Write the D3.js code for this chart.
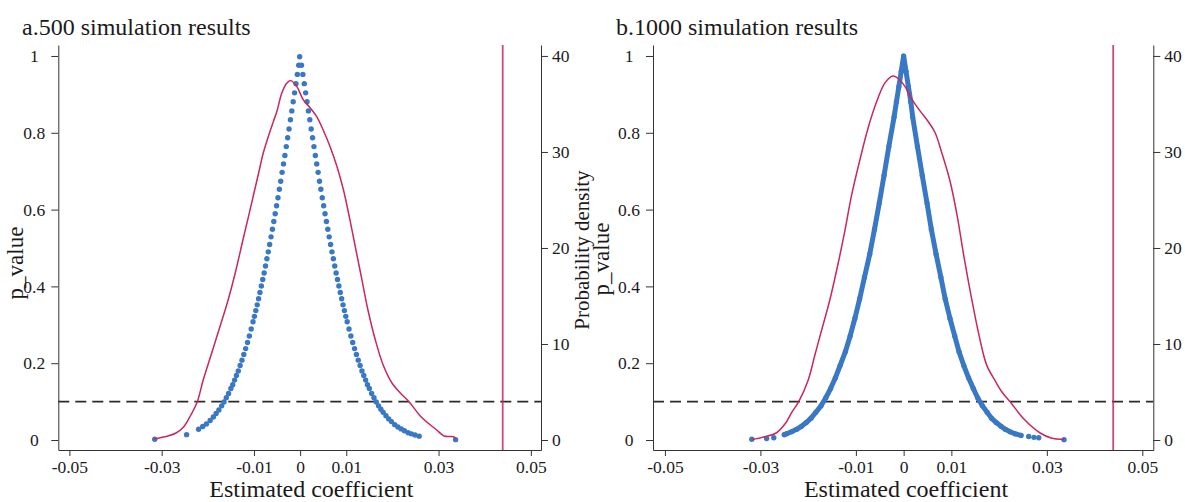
<!DOCTYPE html>
<html>
<head>
<meta charset="utf-8">
<script src="https://cdn.jsdelivr.net/npm/d3@7"></script>
<style>
  body { margin: 0; background: #fff; }
  text { font-family: "Liberation Serif", "Times New Roman", serif; fill: #1a1a1a; }
</style>
</head>
<body>
<div id="chart"></div>
<script>
// ---- data ----
const titles = ['a.500 simulation results', 'b.1000 simulation results'];
const xTicks = [-0.05, -0.03, -0.01, 0, 0.01, 0.03, 0.05];
const pTicks = [0, 0.2, 0.4, 0.6, 0.8, 1];
const densTicks = [0, 10, 20, 30, 40];
const pThreshold = 0.1;
const trueCoef = 0.0439;

// panel a: estimated coefficient vs p_value (scatter)
const aCoef = [
  -0.0315, -0.0246, -0.0220, -0.0211, -0.0203, -0.0195, -0.0188, -0.0182, -0.0176, -0.0170,
  -0.0165, -0.0160, -0.0155, -0.0150, -0.0146, -0.0142, -0.0138, -0.0134, -0.0130, -0.0126,
  -0.0122, -0.0118, -0.0114, -0.0110, -0.0106, -0.0102, -0.0099, -0.0096, -0.0093, -0.0090,
  -0.0087, -0.0084, -0.0081, -0.0078, -0.0075, -0.0072, -0.0069, -0.0066, -0.0063, -0.0060,
  -0.0057, -0.0054, -0.0051, -0.0048, -0.0045, -0.0042, -0.0039, -0.0036, -0.0033, -0.0030,
  -0.0027, -0.0024, -0.0021, -0.0018, -0.0015, -0.0012, -0.0009, -0.0006, -0.0003, -0.0001,
  0.0003, 0.0006, 0.0009, 0.0012, 0.0015, 0.0018, 0.0021, 0.0024, 0.0027, 0.0030,
  0.0033, 0.0036, 0.0039, 0.0042, 0.0045, 0.0048, 0.0051, 0.0054, 0.0057, 0.0060,
  0.0063, 0.0066, 0.0069, 0.0072, 0.0075, 0.0078, 0.0081, 0.0084, 0.0087, 0.0090,
  0.0093, 0.0096, 0.0099, 0.0102, 0.0106, 0.0110, 0.0114, 0.0118, 0.0122, 0.0126,
  0.0130, 0.0134, 0.0138, 0.0142, 0.0146, 0.0150, 0.0155, 0.0160, 0.0165, 0.0170,
  0.0175, 0.0180, 0.0186, 0.0192, 0.0198, 0.0205, 0.0212, 0.0219, 0.0226, 0.0234,
  0.0241, 0.0249, 0.0258, 0.0337
];
const aPval = [
  0.002, 0.014, 0.028, 0.035, 0.042, 0.051, 0.060, 0.069, 0.078, 0.089,
  0.099, 0.110, 0.121, 0.134, 0.144, 0.156, 0.168, 0.180, 0.194, 0.208,
  0.223, 0.238, 0.254, 0.271, 0.289, 0.308, 0.322, 0.337, 0.352, 0.368,
  0.384, 0.401, 0.418, 0.435, 0.453, 0.472, 0.490, 0.509, 0.529, 0.549,
  0.569, 0.589, 0.610, 0.631, 0.653, 0.674, 0.697, 0.719, 0.741, 0.764,
  0.787, 0.810, 0.834, 0.857, 0.881, 0.904, 0.928, 0.952, 0.976, 0.998,
  0.976, 0.952, 0.928, 0.904, 0.881, 0.857, 0.834, 0.810, 0.787, 0.764,
  0.741, 0.719, 0.697, 0.674, 0.653, 0.631, 0.610, 0.589, 0.569, 0.549,
  0.529, 0.509, 0.490, 0.472, 0.453, 0.435, 0.418, 0.401, 0.384, 0.368,
  0.352, 0.337, 0.322, 0.308, 0.289, 0.271, 0.254, 0.238, 0.223, 0.208,
  0.194, 0.180, 0.168, 0.156, 0.144, 0.134, 0.121, 0.110, 0.099, 0.089,
  0.080, 0.072, 0.063, 0.055, 0.048, 0.040, 0.034, 0.029, 0.024, 0.019,
  0.016, 0.013, 0.010, 0.001
];

// panel a: kernel density of the coefficient
const aDensCoef = [
  -0.0316, -0.0301, -0.0286, -0.0269, -0.0252, -0.0238, -0.0223, -0.0210, -0.0193, -0.0176,
  -0.0156, -0.0139, -0.0124, -0.0111, -0.0100, -0.0090, -0.0080, -0.0069, -0.0058, -0.0050,
  -0.0040, -0.0029, -0.0020, -0.0007, 0.0007, 0.0022, 0.0036, 0.0050, 0.0065, 0.0080,
  0.0094, 0.0108, 0.0121, 0.0134, 0.0147, 0.0163, 0.0180, 0.0199, 0.0217, 0.0236,
  0.0262, 0.0296, 0.0312, 0.0333, 0.0337
];
const aDensVal = [
  0.10, 0.26, 0.42, 0.73, 1.39, 2.5, 3.96, 6.25, 8.85, 11.46,
  14.58, 17.71, 20.83, 23.44, 25.73, 27.78, 29.86, 31.59, 33.16, 34.27,
  36.1, 37.16, 37.43, 36.8, 35.42, 34.58, 33.68, 32.29, 30.55, 28.47,
  26.04, 22.92, 19.79, 16.67, 13.54, 10.42, 7.81, 5.94, 4.90, 3.99,
  2.43, 1.04, 0.42, 0.34, 0.10
];

// panel b: dense band of simulation results
const bBandCoef = [
  -0.0250, -0.0245, -0.0235, -0.0224, -0.0214, -0.0204, -0.0194, -0.0184, -0.0173, -0.0163,
  -0.0153, -0.0143, -0.0133, -0.0122, -0.0112, -0.0102, -0.0092, -0.0082, -0.0071, -0.0061,
  -0.0051, -0.0041, -0.0031, -0.0020, -0.0015, -0.0010, -0.0005, 0.0000, 0.0005, 0.0010,
  0.0015, 0.0019, 0.0029, 0.0039, 0.0049, 0.0058, 0.0068, 0.0078, 0.0087, 0.0097,
  0.0107, 0.0116, 0.0126, 0.0136, 0.0146, 0.0155, 0.0165, 0.0175, 0.0184, 0.0194,
  0.0204, 0.0213, 0.0223, 0.0233, 0.0246
];
const bBandPval = [
  0.014, 0.0164, 0.0214, 0.0278, 0.0357, 0.0455, 0.057, 0.072, 0.089, 0.110,
  0.134, 0.162, 0.194, 0.230, 0.271, 0.317, 0.368, 0.424, 0.484, 0.549,
  0.617, 0.689, 0.764, 0.841, 0.881, 0.920, 0.960, 1.000, 0.960, 0.920,
  0.881, 0.841, 0.764, 0.689, 0.617, 0.549, 0.484, 0.424, 0.368, 0.317,
  0.271, 0.230, 0.194, 0.162, 0.134, 0.110, 0.089, 0.072, 0.057, 0.0455,
  0.0357, 0.0278, 0.0214, 0.0164, 0.012
];
// panel b: isolated tail results
const bTailCoef = [-0.0318, -0.0287, -0.0272, 0.0262, 0.0273, 0.0283, 0.0336];
const bTailPval = [0.002, 0.004, 0.006, 0.009, 0.007, 0.006, 0.001];

// panel b: kernel density
const bDensCoef = [
  -0.0318, -0.0291, -0.0267, -0.0247, -0.0234, -0.0220, -0.0200, -0.0186, -0.0172, -0.0155,
  -0.0138, -0.0123, -0.0109, -0.0092, -0.0075, -0.0056, -0.0039, -0.0022, -0.0010, 0.0003,
  0.0017, 0.0034, 0.0051, 0.0066, 0.0080, 0.0097, 0.0112, 0.0126, 0.0141, 0.0158,
  0.0174, 0.0191, 0.0206, 0.0223, 0.0254, 0.0286, 0.0309, 0.0336
];
const bDensVal = [
  0.05, 0.34, 0.73, 1.77, 2.9, 3.98, 6.23, 8.83, 11.4, 14.5,
  18.2, 21.8, 25.5, 29.1, 32.4, 35.3, 37.2, 37.9, 37.6, 36.8,
  35.5, 34.3, 33.2, 32.0, 29.9, 27.0, 23.4, 19.2, 15.1, 10.9,
  7.8, 6.23, 5.0, 3.98, 2.08, 0.73, 0.21, 0.05
];

// ---- layout ----
const blue = '#3878c5';
const red = '#c8285a';
const plotTop = 45, plotBottom = 450;

const panels = [
  { title: titles[0], titleX: 22, left: 58.3, right: 541, xDomain: [-0.0524, 0.0522],
    coef: aCoef, pval: aPval, band: null, densCoef: aDensCoef, dens: aDensVal,
    pLabelX: 23, pLabelY: 263 },
  { title: titles[1], titleX: 616, left: 653, right: 1153.3, xDomain: [-0.0525, 0.0523],
    coef: bTailCoef, pval: bTailPval, band: { coef: bBandCoef, pval: bBandPval },
    densCoef: bDensCoef, dens: bDensVal, pLabelX: 609, pLabelY: 259 }
];

const svg = d3.select('#chart')
  .append('svg')
  .attr('width', 1185)
  .attr('height', 502);

const y = d3.scaleLinear().domain([-0.026, 1.0286]).range([plotBottom, plotTop]);
const yDens = d3.scaleLinear().domain([-1.04, 41.14]).range([plotBottom, plotTop]);

panels.forEach((p, idx) => {
  const g = svg.append('g');
  const x = d3.scaleLinear().domain(p.xDomain).range([p.left, p.right]);

  // threshold line
  g.append('line')
    .attr('x1', p.left).attr('x2', p.right)
    .attr('y1', y(pThreshold)).attr('y2', y(pThreshold))
    .attr('stroke', '#2a2a2a')
    .attr('stroke-width', 1.6)
    .attr('stroke-dasharray', '11,6');

  // true coefficient line
  g.append('line')
    .attr('x1', x(trueCoef)).attr('x2', x(trueCoef))
    .attr('y1', plotTop).attr('y2', plotBottom)
    .attr('stroke', red)
    .attr('stroke-opacity', 0.85)
    .attr('stroke-width', 1.8);

  // blue band (panel b)
  if (p.band) {
    const bandData = p.band.coef.map((c, i) => ({ c, v: p.band.pval[i] }));
    g.append('path')
      .datum(bandData)
      .attr('fill', 'none')
      .attr('stroke', blue)
      .attr('stroke-width', 5)
      .attr('stroke-linejoin', 'round')
      .attr('stroke-linecap', 'round')
      .attr('d', d3.line().x(d => x(d.c)).y(d => y(d.v)));
    g.selectAll('.band-dot')
      .data(bandData)
      .enter().append('circle')
      .attr('cx', d => x(d.c)).attr('cy', d => y(d.v))
      .attr('r', 2.6)
      .attr('fill', blue);
  }

  // blue scatter
  const pts = p.coef.map((c, i) => ({ c, v: p.pval[i] }));
  g.selectAll('.dot')
    .data(pts)
    .enter().append('circle')
    .attr('cx', d => x(d.c)).attr('cy', d => y(d.v))
    .attr('r', 2.7)
    .attr('fill', blue);

  // density curve
  const dens = p.densCoef.map((c, i) => ({ c, v: p.dens[i] }));
  g.append('path')
    .datum(dens)
    .attr('fill', 'none')
    .attr('stroke', red)
    .attr('stroke-width', 1.5)
    .attr('d', d3.line().x(d => x(d.c)).y(d => yDens(d.v)).curve(d3.curveCatmullRom.alpha(0.5)));

  // axes
  const xAxis = g.append('g')
    .attr('transform', `translate(0,${plotBottom})`)
    .call(d3.axisBottom(x).tickValues(xTicks).tickSize(6).tickSizeOuter(0).tickPadding(5)
      .tickFormat(d => String(d)));
  xAxis.selectAll('text').attr('font-size', 17.5);

  const yAxis = g.append('g')
    .attr('transform', `translate(${p.left},0)`)
    .call(d3.axisLeft(y).tickValues(pTicks).tickSize(7).tickSizeOuter(0)
      .tickFormat(d => String(d)));
  yAxis.selectAll('text')
    .attr('font-size', 17.5)
    .attr('text-anchor', 'middle')
    .attr('x', -24);

  const rAxis = g.append('g')
    .attr('transform', `translate(${p.right},0)`)
    .call(d3.axisRight(yDens).tickValues(densTicks).tickSize(7).tickSizeOuter(0).tickPadding(4));
  rAxis.selectAll('text').attr('font-size', 17.5);

  [xAxis, yAxis, rAxis].forEach(a => {
    a.attr('font-family', null).attr('font-size', null).attr('color', '#333');
  });

  // titles and labels
  g.append('text')
    .attr('x', p.titleX).attr('y', 35)
    .attr('font-size', 24)
    .text(p.title);

  g.append('text')
    .attr('x', p.left + 253).attr('y', 497)
    .attr('text-anchor', 'middle')
    .attr('font-size', 24)
    .text('Estimated coefficient');

  g.append('text')
    .attr('transform', `translate(${p.pLabelX},${p.pLabelY}) rotate(-90)`)
    .attr('text-anchor', 'middle')
    .attr('font-size', 23)
    .text('p_value');

  if (idx === 0) {
    g.append('text')
      .attr('transform', `translate(589,250) rotate(-90)`)
      .attr('text-anchor', 'middle')
      .attr('font-size', 21)
      .text('Probability density');
  }
});
</script>
</body>
</html>
